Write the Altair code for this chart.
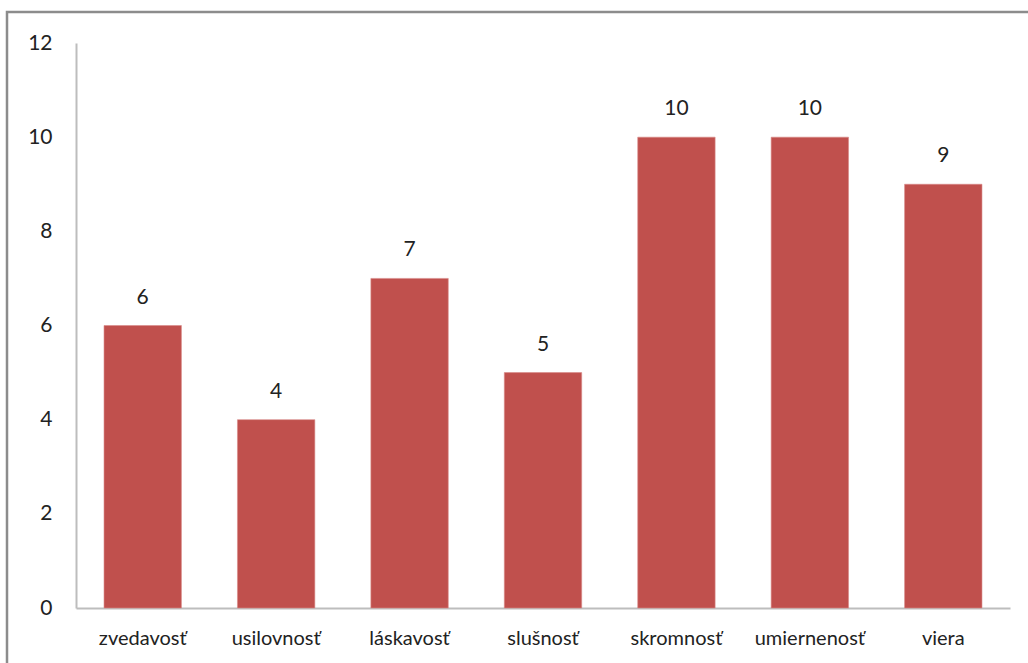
import altair as alt
import pandas as pd

categories = ["zvedavosť", "usilovnosť", "láskavosť", "slušnosť", "skromnosť", "umiernenosť", "viera"]
values = [6, 4, 7, 5, 10, 10, 9]
y_ticks = [0, 2, 4, 6, 8, 10, 12]

df = pd.DataFrame({"kategoria": categories, "pocet": values})

W, H = 934, 565
FONT = "Lato"

base = alt.Chart(df)

bars = base.mark_bar(color="#C0504D", stroke="#D98A88", strokeWidth=0.6).encode(
    x=alt.X(
        "kategoria:N",
        sort=categories,
        scale=alt.Scale(paddingInner=0.42, paddingOuter=0.21),
        axis=alt.Axis(
            title=None, labelAngle=0, ticks=False, domainColor="#BDBDBD", domainWidth=2,
            labelFont=FONT, labelFontSize=20, labelColor="#222222", labelPadding=20,
        ),
    ),
    y=alt.Y(
        "pocet:Q",
        scale=alt.Scale(domain=[0, 12], nice=False),
        axis=alt.Axis(
            title=None, values=y_ticks, grid=False, ticks=False, domainColor="#BDBDBD",
            domainWidth=2, labelFont=FONT, labelFontSize=21, labelColor="#222222",
            labelPadding=24,
        ),
    ),
)

labels = base.mark_text(dy=-28, font=FONT, fontSize=21, color="#222222").encode(
    x=alt.X("kategoria:N", sort=categories),
    y="pocet:Q",
    text="pocet:Q",
)

# thin gray frame around the whole figure
frame = alt.Chart(pd.DataFrame({"k": [0]})).mark_rect(
    fill=None, stroke="#8C8C8C", strokeWidth=2.5, clip=False
).encode(
    x=alt.value(-69), x2=alt.value(W + 40), y=alt.value(-31), y2=alt.value(H + 80)
)

chart = alt.layer(frame, bars, labels).properties(
    width=W, height=H,
    background="white",
    autosize=alt.AutoSizeParams(type="none"),
    padding={"left": 76, "top": 43, "right": 18, "bottom": 55},
).configure_view(strokeWidth=0, stroke="transparent")

chart.save("out.html", embed_options={"renderer": "svg", "actions": False})
